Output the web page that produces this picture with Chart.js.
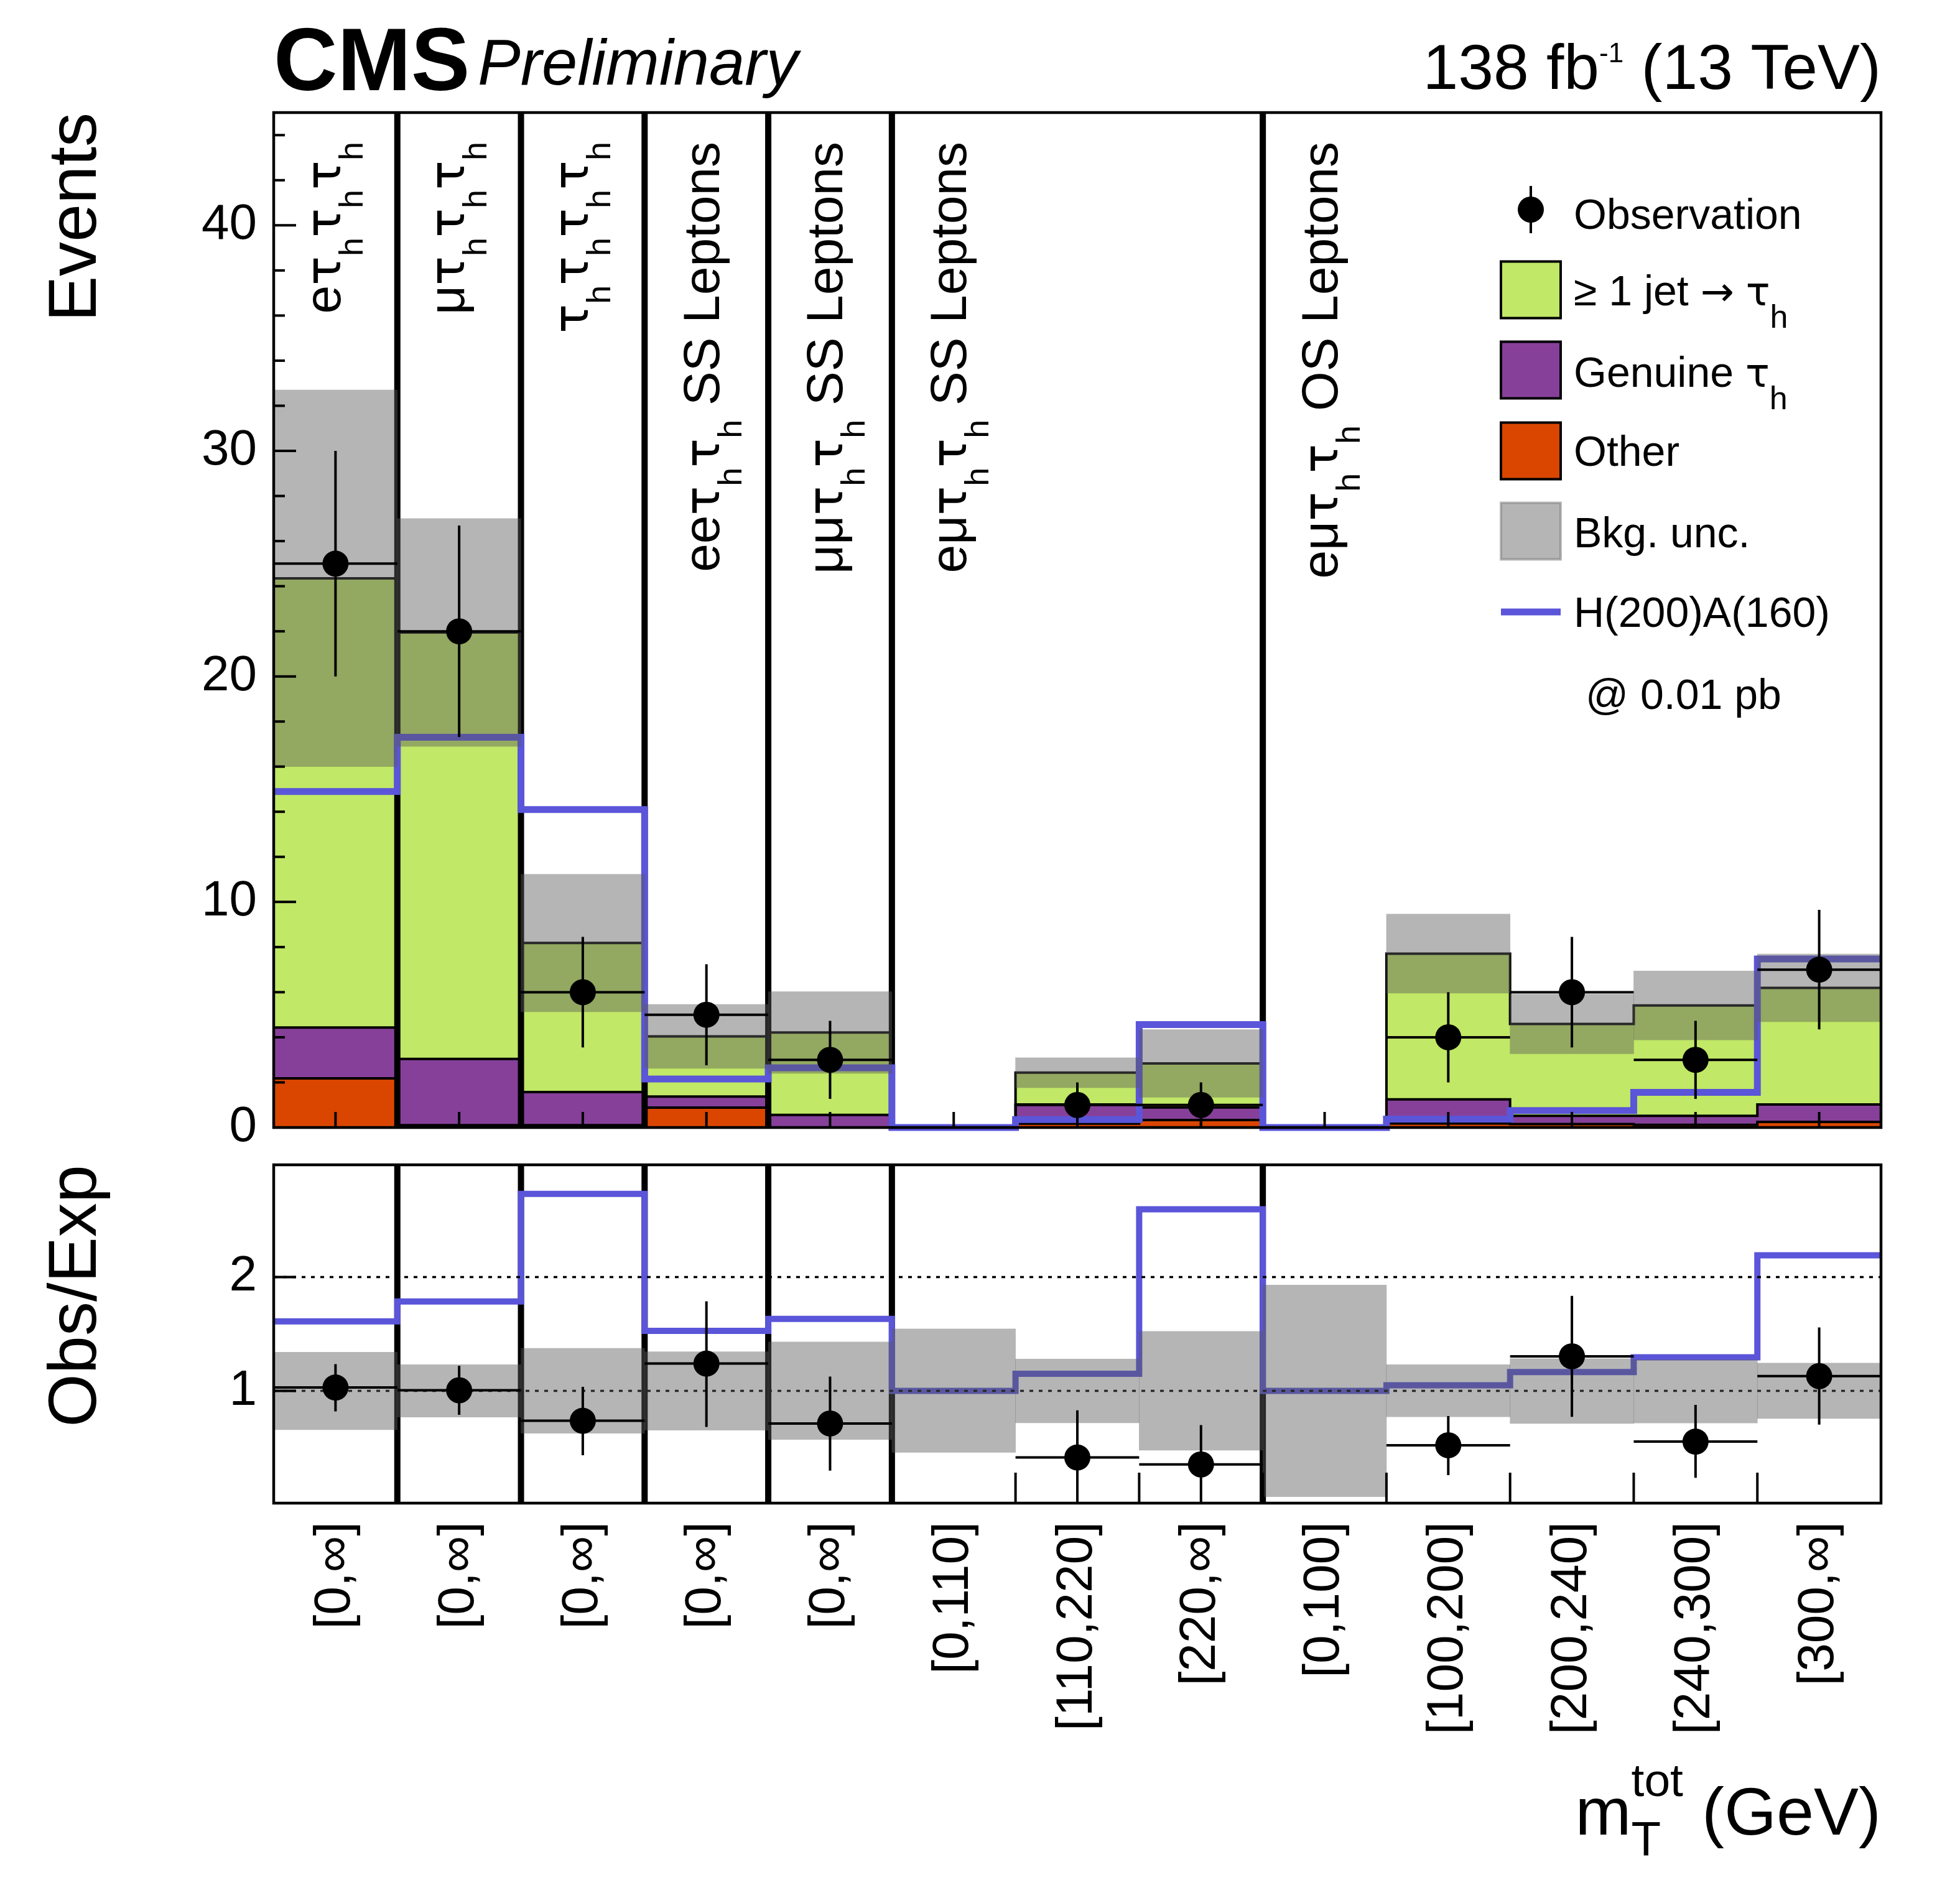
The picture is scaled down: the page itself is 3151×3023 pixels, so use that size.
<!DOCTYPE html>
<html>
<head>
<meta charset="utf-8">
<script src="https://cdn.jsdelivr.net/npm/chart.js@4.4.0/dist/chart.umd.min.js"></script>
<style>
  html, body { margin: 0; padding: 0; background: #fff; }
  #wrap { position: relative; width: 3151px; height: 3023px; background: #fff; }
  canvas { position: absolute; left: 0; }
</style>
</head>
<body>
<div id="wrap">
  <canvas id="main" width="3151" height="1850" style="top:0px"></canvas>
  <canvas id="ratio" width="3151" height="1173" style="top:1850px"></canvas>
</div>
<script>
// ---- data ----
const binLabels = ['[0,∞]', '[0,∞]', '[0,∞]', '[0,∞]', '[0,∞]', '[0,110]', '[110,220]',
                   '[220,∞]', '[0,100]', '[100,200]', '[200,240]', '[240,300]', '[300,∞]'];

// channel name written inside the upper panel, by bin index
const channelBins = [0, 1, 2, 3, 4, 5, 8];
const channelNames = ['eτ_hτ_hτ_h', 'μτ_hτ_hτ_h', 'τ_hτ_hτ_hτ_h', 'eeτ_hτ_h SS Leptons',
                      'μμτ_hτ_h SS Leptons', 'eμτ_hτ_h SS Leptons', 'eμτ_hτ_h OS Leptons'];

// background components (events)
const bkgOther   = [2.18, 0.10, 0.10, 0.88, 0.00, 0, 0.17, 0.33, 0, 0.18, 0.15, 0.12, 0.25];
const bkgGenuine = [2.25, 2.94, 1.47, 0.49, 0.56, 0, 0.85, 0.56, 0, 1.07, 0.37, 0.40, 0.77];
const bkgJetFake = [19.92, 18.91, 6.61, 2.67, 3.65, 0, 1.41, 1.95, 0, 6.46, 4.07, 4.89, 5.17];
const bkgUnc     = [8.35, 5.05, 3.05, 1.42, 1.81, 0, 0.66, 1.50, 0, 1.75, 1.32, 1.53, 1.50];

const observed    = [25, 22, 6, 5, 3, 0, 1, 1, 0, 4, 6, 3, 7];
const observedErr = [5.0, 4.69, 2.45, 2.24, 1.73, 0, 1.0, 1.0, 0, 2.0, 2.45, 1.73, 2.65];
const signal      = [14.9, 17.3, 14.1, 2.15, 2.65, 0, 0.35, 4.56, 0, 0.37, 0.75, 1.56, 7.47];

// ratio panel
const ratioObs     = [1.03, 1.006, 0.738, 1.24, 0.714, null, 0.416, 0.355, null, 0.523, 1.304, 0.555, 1.13];
const ratioErrUp   = [1.235, 1.22, 1.036, 1.787, 1.126, null, 0.83, 0.70, null, 0.78, 1.835, 0.877, 1.558];
const ratioErrDown = [0.82, 0.79, 0.436, 0.684, 0.30, null, 0.0, 0.0, null, 0.26, 0.773, 0.238, 0.704];
const ratioUncLo   = [0.66, 0.77, 0.628, 0.655, 0.573, 0.46, 0.72, 0.48, 0.072, 0.773, 0.714, 0.719, 0.758];
const ratioUncHi   = [1.34, 1.23, 1.374, 1.344, 1.43, 1.544, 1.28, 1.523, 1.93, 1.23, 1.284, 1.274, 1.245];
const ratioSignal  = [1.61, 1.785, 2.73, 1.527, 1.632, 1.0, 1.15, 2.595, 1.0, 1.05, 1.165, 1.295, 2.19];

const channelEdges = [1, 2, 3, 4, 5, 8];
const mainYTicks = [0, 10, 20, 30, 40];
const ratioYTicks = [1, 2];

const legendLabels = ['Observation', '≥ 1 jet → τ_h', 'Genuine τ_h', 'Other', 'Bkg. unc.', 'H(200)A(160)', '@ 0.01 pb'];

// ---- style ----
const FONT = '"Liberation Sans", Helvetica, Arial, sans-serif';
const SYMFONT = '"DejaVu Sans", sans-serif';   // wider tau and arrow, closer to the ROOT symbol font
const C_JET = '#c1e866', C_GEN = '#86409a', C_OTH = '#da4600';
const C_BAND = 'rgba(90,90,90,0.45)', C_SIG = '#5a55d9';

Chart.defaults.font.family = FONT;
Chart.defaults.color = '#000';

const NB = binLabels.length;
const centers = binLabels.map((_, i) => i + 0.5);

// ---- helpers building chart.js data from the arrays ----
const cumOther = bkgOther.slice();
const cumGen = bkgGenuine.map((v, i) => v + cumOther[i]);
const cumTotal = bkgJetFake.map((v, i) => v + cumGen[i]);

function floatBars(lo, hi) {
  return lo.map((l, i) => ({x: i + 0.5, y: hi[i] > l ? [l, hi[i]] : null}));
}
function stepLine(vals) {
  const pts = vals.map((v, i) => ({x: i, y: v}));
  pts.push({x: vals.length, y: vals[vals.length - 1]});
  return pts;
}
function vSegments(xs, lo, hi) {
  const pts = [];
  xs.forEach((x, k) => pts.push({x, y: lo[k]}, {x, y: hi[k]}, {x, y: null}));
  return pts;
}
function binBars(vals) {
  const pts = [];
  vals.forEach((v, i) => { if (v != null) pts.push({x: i, y: v}, {x: i + 1, y: v}, {x: i + 1, y: null}); });
  return pts;
}

// rich text: _x / _{..} subscript, ^{..} superscript
function parseRich(str) {
  const parts = [];
  let buf = '';
  for (let i = 0; i < str.length; i++) {
    const ch = str[i];
    if (ch === '_' || ch === '^') {
      if (buf) { parts.push({t: buf, m: ''}); buf = ''; }
      let t;
      if (str[i + 1] === '{') { const j = str.indexOf('}', i); t = str.slice(i + 2, j); i = j; }
      else { t = str[i + 1]; i++; }
      parts.push({t, m: ch === '_' ? 'sub' : 'sup'});
    } else buf += ch;
  }
  if (buf) parts.push({t: buf, m: ''});
  // split tau / arrow into their own runs
  const out = [];
  parts.forEach(p => {
    p.t.split(/([τ→])/).forEach(t => { if (t) out.push({t, m: p.m, sym: /[τ→]/.test(t)}); });
  });
  return out;
}
function fontStr(size, weight, style, fam) {
  return (style || 'normal') + ' ' + (weight || 'normal') + ' ' + size + 'px ' + (fam || FONT);
}
function drawRich(ctx, str, x, y, o) {
  const items = [];
  let pos = 0, prev = null;
  for (const p of parseRich(str)) {
    let size = p.m === 'sub' ? o.subSize : p.m === 'sup' ? o.supSize : o.size;
    if (p.sym) size *= 0.95;
    const f = fontStr(size, o.weight, o.style, p.sym ? SYMFONT : FONT);
    ctx.font = f;
    const w = ctx.measureText(p.t).width;
    let start = pos;
    if (p.m === 'sup' && prev && prev.m === 'sub') { start = prev.start; pos = Math.max(prev.start + prev.w, start + w); }
    else pos = start + w;
    const dy = p.m === 'sub' ? o.subDy : p.m === 'sup' ? -o.supDy : 0;
    prev = {t: p.t, m: p.m, f, start, w, dy};
    items.push(prev);
  }
  const x0 = o.align === 'right' ? x - pos : x;
  ctx.textAlign = 'left';
  ctx.textBaseline = 'alphabetic';
  for (const it of items) { ctx.font = it.f; ctx.fillText(it.t, x0 + it.start, y + it.dy); }
}
function seg(ctx, x1, y1, x2, y2) { ctx.beginPath(); ctx.moveTo(x1, y1); ctx.lineTo(x2, y2); ctx.stroke(); }

// ---- upper panel ----
const obsBins = observed.map((v, i) => v > 0 ? i : -1).filter(i => i >= 0);

const mainDatasets = [
  {type: 'bar', data: floatBars(cumGen, cumTotal), backgroundColor: C_JET, grouped: false, barPercentage: 1, categoryPercentage: 1, order: 20},
  {type: 'bar', data: floatBars(cumOther, cumGen), backgroundColor: C_GEN, grouped: false, barPercentage: 1, categoryPercentage: 1, order: 21},
  {type: 'bar', data: floatBars(bkgOther.map(() => 0), cumOther), backgroundColor: C_OTH, grouped: false, barPercentage: 1, categoryPercentage: 1, order: 22},
  {type: 'line', data: vSegments(channelEdges, channelEdges.map(() => 0), channelEdges.map(() => 45)), borderColor: '#000', borderWidth: 10, order: 15},
  {type: 'line', data: stepLine(cumOther), stepped: true, borderColor: '#000', borderWidth: 4, order: 12},
  {type: 'line', data: stepLine(cumGen), stepped: true, borderColor: '#000', borderWidth: 4, order: 11},
  {type: 'line', data: stepLine(cumTotal), stepped: true, borderColor: '#000', borderWidth: 4, order: 10},
  {type: 'line', data: stepLine(signal), stepped: true, borderColor: C_SIG, borderWidth: 11, clip: false, order: 8},
  {type: 'bar', data: floatBars(cumTotal.map((v, i) => v - bkgUnc[i]), cumTotal.map((v, i) => v + bkgUnc[i])),
   backgroundColor: C_BAND, grouped: false, barPercentage: 1, categoryPercentage: 1, order: 5},
  {type: 'line', data: vSegments(obsBins.map(i => i + 0.5), obsBins.map(i => Math.max(0, observed[i] - observedErr[i])), obsBins.map(i => observed[i] + observedErr[i])),
   borderColor: '#000', borderWidth: 4, order: 3},
  {type: 'line', data: binBars(observed.map(v => v > 0 ? v : null)), borderColor: '#000', borderWidth: 4, order: 3},
  {type: 'scatter', data: obsBins.map(i => ({x: i + 0.5, y: observed[i]})), pointRadius: 21, pointBackgroundColor: '#000', pointBorderWidth: 0, order: 1}
];

const mainDecor = {
  id: 'mainDecor',
  afterDraw(chart) {
    const {ctx, chartArea: a, scales: {x, y}} = chart;
    ctx.save();
    ctx.strokeStyle = '#000';
    ctx.fillStyle = '#000';
    ctx.lineWidth = 4;
    for (let v = 0; v <= 44; v += 2) {
      const py = y.getPixelForValue(v);
      seg(ctx, a.left, py, a.left + (v % 10 === 0 ? 36 : 18), py);
    }
    centers.forEach(c => { const px = x.getPixelForValue(c); seg(ctx, px, a.bottom, px, a.bottom - 25); });
    ctx.lineWidth = 4.5;
    ctx.strokeRect(a.left, a.top, a.right - a.left, a.bottom - a.top);

    // channel names, vertical
    channelNames.forEach((name, k) => {
      const b = channelBins[k];
      const px = x.getPixelForValue(b + 0.5) + (name.includes('Leptons') ? 20 : 8);
      ctx.save();
      ctx.translate(px, 228);
      ctx.rotate(-Math.PI / 2);
      drawRich(ctx, name, 0, 0, {size: 82, subSize: 54, subDy: 36, align: 'right'});
      ctx.restore();
    });

    // header
    ctx.font = fontStr(142, 'bold');
    ctx.textAlign = 'left'; ctx.textBaseline = 'alphabetic';
    ctx.fillText('CMS', 440, 145);
    ctx.font = fontStr(103, 'normal', 'italic');
    ctx.fillText('Preliminary', 768, 136);
    drawRich(ctx, '138 fb^{-1} (13 TeV)', 3024, 143, {size: 102, supSize: 44, supDy: 43, align: 'right'});

    // legend
    const bx = 2413, bw = 96, bh = 91, tx = 2530;
    const rowY = [337, 466, 595, 725, 854, 984, 1118];
    const baseY = [368, 491, 622, 749, 880, 1008, 1140];
    const lo = {size: 68, subSize: 52, subDy: 36};
    ctx.lineWidth = 4;
    seg(ctx, bx + bw / 2, rowY[0] - 38, bx + bw / 2, rowY[0] + 38);
    ctx.beginPath(); ctx.arc(bx + bw / 2, rowY[0], 21, 0, 2 * Math.PI); ctx.fill();
    [C_JET, C_GEN, C_OTH].forEach((c, k) => {
      const cy = rowY[k + 1];
      ctx.fillStyle = c; ctx.fillRect(bx, cy - bh / 2, bw, bh);
      ctx.strokeStyle = '#000'; ctx.strokeRect(bx, cy - bh / 2, bw, bh);
    });
    ctx.fillStyle = C_BAND; ctx.fillRect(bx, rowY[4] - bh / 2, bw, bh);
    ctx.strokeStyle = 'rgba(120,120,120,0.5)'; ctx.strokeRect(bx, rowY[4] - bh / 2, bw, bh);
    ctx.strokeStyle = C_SIG; ctx.lineWidth = 11;
    seg(ctx, bx, rowY[5], bx + bw, rowY[5]);
    ctx.fillStyle = '#000';
    legendLabels.forEach((t, k) => drawRich(ctx, t, k === 6 ? 2549 : tx, baseY[k], lo));
    ctx.restore();
  }
};

new Chart(document.getElementById('main'), {
  type: 'line',
  data: {datasets: mainDatasets},
  options: {
    responsive: false, animation: false, devicePixelRatio: 1,
    layout: {padding: {left: 0, right: 127, top: 181, bottom: 37}},
    plugins: {legend: {display: false}, tooltip: {enabled: false}},
    elements: {point: {radius: 0}, line: {tension: 0}},
    scales: {
      x: {type: 'linear', min: 0, max: NB, offset: false, display: false,
          afterBuildTicks: s => { s.ticks = centers.map(v => ({value: v})); }},
      y: {type: 'linear', min: 0, max: 45,
          afterBuildTicks: s => { s.ticks = mainYTicks.map(v => ({value: v})); },
          afterFit: s => { s.width = 440; s.paddingTop = 0; s.paddingBottom = 0; },
          grid: {display: false, drawTicks: false}, border: {display: false},
          ticks: {font: {size: 80}, padding: 27, color: '#000'},
          title: {display: true, text: 'Events', align: 'end', font: {size: 110}, padding: {top: 58, bottom: 0}, color: '#000'}}
    }
  },
  plugins: [mainDecor]
});

// ---- ratio panel ----
const rBins = ratioObs.map((v, i) => v != null ? i : -1).filter(i => i >= 0);

const ratioDatasets = [
  {type: 'line', data: vSegments(channelEdges, channelEdges.map(() => 0), channelEdges.map(() => 3)), borderColor: '#000', borderWidth: 10, order: 15},
  {type: 'line', data: stepLine(ratioSignal), stepped: true, borderColor: C_SIG, borderWidth: 10, order: 8},
  {type: 'line', data: [{x: 0, y: 2}, {x: NB, y: 2}], borderColor: '#000', borderWidth: 3.5, borderDash: [6, 9], order: 6},
  {type: 'line', data: [{x: 0, y: 1}, {x: NB, y: 1}], borderColor: '#000', borderWidth: 3.5, borderDash: [6, 9], order: 6},
  {type: 'bar', data: floatBars(ratioUncLo, ratioUncHi), backgroundColor: C_BAND, grouped: false, barPercentage: 1, categoryPercentage: 1, order: 5},
  {type: 'line', data: vSegments(rBins.map(i => i + 0.5), rBins.map(i => ratioErrDown[i]), rBins.map(i => ratioErrUp[i])),
   borderColor: '#000', borderWidth: 4, order: 3},
  {type: 'line', data: binBars(ratioObs), borderColor: '#000', borderWidth: 4, order: 3},
  {type: 'scatter', data: rBins.map(i => ({x: i + 0.5, y: ratioObs[i]})), pointRadius: 21, pointBackgroundColor: '#000', pointBorderWidth: 0, order: 1}
];

const ratioDecor = {
  id: 'ratioDecor',
  afterDraw(chart) {
    const {ctx, chartArea: a, scales: {x, y}} = chart;
    ctx.save();
    ctx.strokeStyle = '#000';
    ctx.fillStyle = '#000';
    ctx.lineWidth = 4;
    for (let e = 1; e < NB; e++) {
      const px = x.getPixelForValue(e);
      seg(ctx, px, a.bottom, px, a.bottom - 49);
    }
    ratioYTicks.forEach(v => { const py = y.getPixelForValue(v); seg(ctx, a.left, py, a.left + 36, py); });
    ctx.lineWidth = 4.5;
    ctx.strokeRect(a.left, a.top, a.right - a.left, a.bottom - a.top);
    drawRich(ctx, 'm_T^{tot} (GeV)', 3024, 1100, {size: 108, subSize: 78, supSize: 75, subDy: 34, supDy: 62, align: 'right'});
    ctx.restore();
  }
};

new Chart(document.getElementById('ratio'), {
  type: 'line',
  data: {datasets: ratioDatasets},
  options: {
    responsive: false, animation: false, devicePixelRatio: 1,
    layout: {padding: {left: 0, right: 127, top: 23, bottom: 0}},
    plugins: {legend: {display: false}, tooltip: {enabled: false}},
    elements: {point: {radius: 0}, line: {tension: 0}},
    scales: {
      x: {type: 'linear', min: 0, max: NB, offset: false,
          afterBuildTicks: s => { s.ticks = centers.map(v => ({value: v})); },
          afterFit: s => { s.height = 606; s.paddingLeft = 0; s.paddingRight = 0; },
          grid: {display: false, drawTicks: false}, border: {display: false},
          ticks: {autoSkip: false, minRotation: 90, maxRotation: 90, padding: 30, font: {size: 82}, color: '#000',
                  callback: (v, i) => binLabels[i]}},
      y: {type: 'linear', min: 0.015, max: 2.985,
          afterBuildTicks: s => { s.ticks = ratioYTicks.map(v => ({value: v})); },
          afterFit: s => { s.width = 440; s.paddingTop = 0; s.paddingBottom = 0; },
          grid: {display: false, drawTicks: false}, border: {display: false},
          ticks: {font: {size: 80}, padding: 27, color: '#000'},
          title: {display: true, text: 'Obs/Exp', align: 'end', font: {size: 110}, padding: {top: 58, bottom: 0}, color: '#000'}}
    }
  },
  plugins: [ratioDecor]
});
</script>
</body>
</html>
